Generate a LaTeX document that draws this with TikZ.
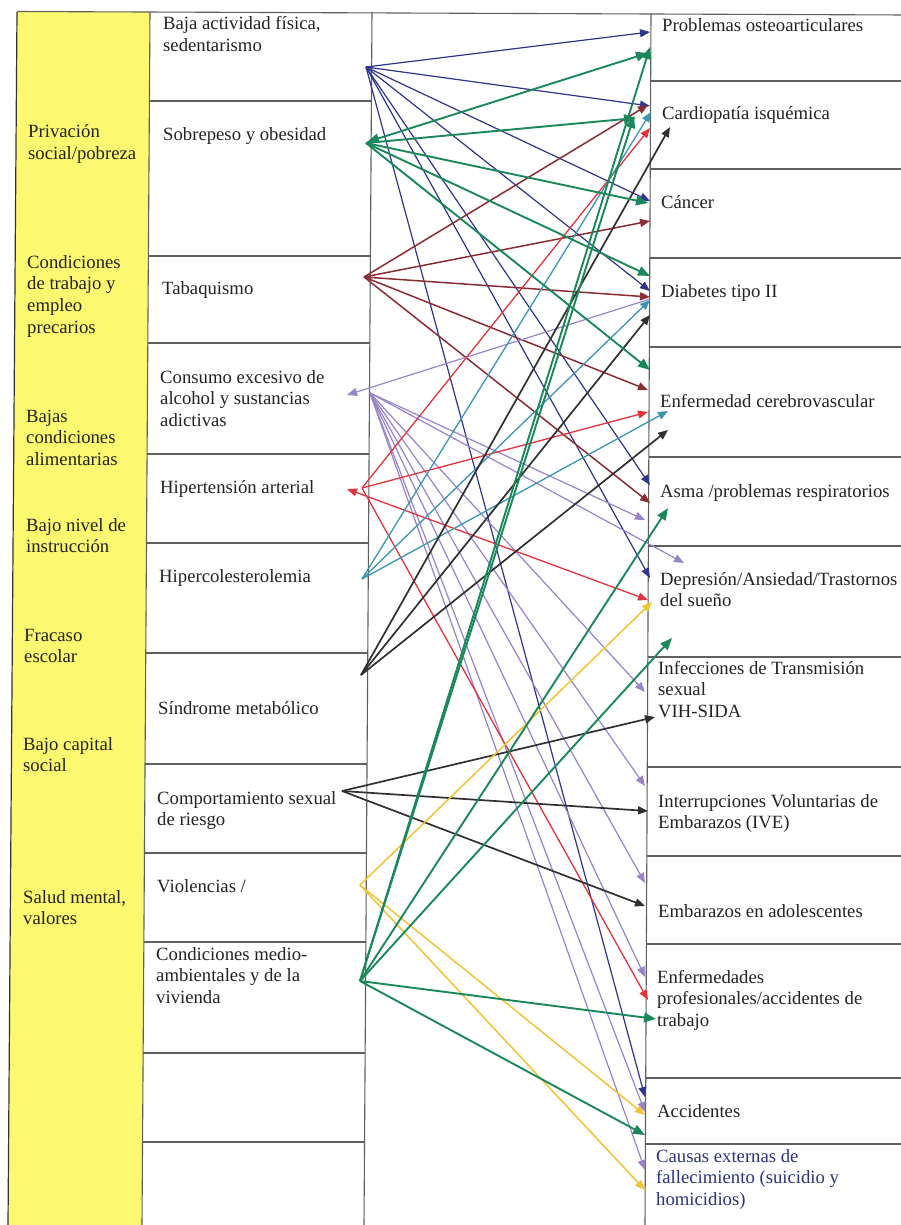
\documentclass[tikz,border=0pt]{standalone}
\usepackage{fontspec}
\setmainfont{Liberation Serif}
\usetikzlibrary{arrows.meta}
\definecolor{ybg}{RGB}{252,248,112}
\definecolor{gridc}{RGB}{95,95,95}
\definecolor{cblue}{RGB}{48,54,140}
\definecolor{cgreen}{RGB}{26,136,90}
\definecolor{cmaroon}{RGB}{138,44,52}
\definecolor{clav}{RGB}{152,132,200}
\definecolor{cred}{RGB}{226,52,62}
\definecolor{cteal}{RGB}{60,150,175}
\definecolor{cblack}{RGB}{48,48,48}
\definecolor{cyel}{RGB}{240,196,52}
\definecolor{ctxt}{RGB}{35,35,35}
\definecolor{cnavy}{RGB}{44,50,125}
\tikzset{
  lbl/.style={anchor=base west, inner sep=0pt, align=left,
    font=\fontsize{18.7}{21.7}\selectfont, text=ctxt},
  gridline/.style={draw=gridc, line width=1.1pt},
  thin arrow/.style={-{Triangle[length=10pt,width=8pt]}},
  big arrow/.style={-{Triangle[length=12pt,width=9.5pt]}},
  ablue/.style={thin arrow, draw=cblue, fill=cblue, line width=1.2pt},
  agreen/.style={big arrow, draw=cgreen, fill=cgreen, line width=1.9pt},
  amaroon/.style={thin arrow, draw=cmaroon, fill=cmaroon, line width=1.5pt},
  alav/.style={thin arrow, draw=clav, fill=clav, line width=1.2pt},
  ared/.style={thin arrow, draw=cred, fill=cred, line width=1.3pt},
  ateal/.style={thin arrow, draw=cteal, fill=cteal, line width=1.3pt},
  ablack/.style={thin arrow, draw=cblack, fill=cblack, line width=1.7pt},
  ayel/.style={thin arrow, draw=cyel, fill=cyel, line width=1.5pt},
}
\begin{document}
\begin{tikzpicture}[x=1pt,y=-1pt]
\useasboundingbox (0,0) rectangle (901,1225);
\clip (0,0) rectangle (901,1225);
\fill[white] (0,0) rectangle (901,1225);
% yellow column
\fill[ybg] (17,12) -- (150,12) -- (142,1225) -- (8,1225) -- cycle;
\draw[draw=black!80, line width=1.2pt] (17,12) -- (8,1225);
% grid
\draw[gridline] (17,11.5) -- (905,15);
\draw[gridline] (150,12) -- (142,1225);
\draw[gridline] (372,12) -- (364,1225);
\draw[gridline] (651,14) -- (645,1225);
\foreach \y/\a/\b in {101/149.4/371.4, 256/148.4/370.4, 343/147.8/369.8,
  454/147.1/369.1, 543/146.5/368.5, 653/145.8/367.8, 764/145.0/367.0,
  853/144.4/366.4, 942/143.9/365.9, 1053/143.1/365.1, 1142/142.5/364.5}
  \draw[gridline] (\a,\y) -- (\b,\y);
\foreach \y/\a in {81/650.7, 169/650.2, 258/649.8, 347/649.3, 457/648.8,
  546/648.3, 657/647.8, 767/647.2, 856/646.8, 944/646.4, 1078/645.7, 1144/645.4}
  \draw[gridline] (\a,\y) -- (905,\y);

% left column texts (y = baseline of last line)
\node[lbl] (l1) at (28,159.7) {Privación\\social/pobreza};
\node[lbl] (l2) at (27,333.1) {Condiciones\\de trabajo y\\empleo\\precarios};
\node[lbl] (l3) at (26,465.4) {Bajas\\condiciones\\alimentarias};
\node[lbl] (l4) at (26,552.7) {Bajo nivel de\\instrucción};
\node[lbl] (l5) at (24,662.7) {Fracaso\\escolar};
\node[lbl] (l6) at (23,771.7) {Bajo capital\\social};
\node[lbl] (l7) at (23,924.7) {Salud mental,\\valores};

% middle column texts
\node[lbl] (m1) at (163,51.7) {Baja actividad física,\\sedentarismo};
\node[lbl] (m2) at (163,141) {Sobrepeso y obesidad};
\node[lbl] (m3) at (162,294) {Tabaquismo};
\node[lbl] (m4) at (160,426.4) {Consumo excesivo de\\alcohol y sustancias\\adictivas};
\node[lbl] (m5) at (160,493) {Hipertensión arterial};
\node[lbl] (m6) at (159,582) {Hipercolesterolemia};
\node[lbl] (m7) at (158,714) {Síndrome metabólico};
\node[lbl] (m8) at (157,825.7) {Comportamiento sexual\\de riesgo};
\node[lbl] (m9) at (157,892) {Violencias /};
\node[lbl] (m10) at (156,1003.4) {Condiciones medio-\\ambientales y de la\\vivienda};

% right column texts
\node[lbl] (r1) at (662,32) {Problemas osteoarticulares};
\node[lbl] (r2) at (662,120) {Cardiopatía isquémica};
\node[lbl] (r3) at (661,208) {Cáncer};
\node[lbl] (r4) at (661,297) {Diabetes tipo II};
\node[lbl] (r5) at (660,407) {Enfermedad cerebrovascular};
\node[lbl] (r6) at (660,497) {Asma /problemas respiratorios};
\node[lbl] (r7) at (660,606.7) {Depresión/Ansiedad/Trastornos\\del sueño};
\node[lbl] (r8) at (658,717.4) {Infecciones de Transmisión\\sexual\\VIH-SIDA};
\node[lbl] (r9) at (658,828.7) {Interrupciones Voluntarias de\\Embarazos (IVE)};
\node[lbl] (r10) at (658,917) {Embarazos en adolescentes};
\node[lbl] (r11) at (657,1026.4) {Enfermedades\\profesionales/accidentes de\\trabajo};
\node[lbl] (r12) at (657,1117) {Accidentes};
\node[lbl, text=cnavy] (r13) at (656,1205.4) {Causas externas de\\fallecimiento (suicidio y\\homicidios)};

% source points
\coordinate (sBaja) at (366,67);
\coordinate (sSob) at (366,143);
\coordinate (sTab) at (364,277);
\coordinate (sCons) at (370,393);
\coordinate (sConsTip) at (347,395);
\coordinate (sHip) at (362,488);
\coordinate (sHipTip) at (347,489);
\coordinate (sCol) at (362,579);
\coordinate (sSin) at (361,675);
\coordinate (sCom) at (342,791);
\coordinate (sVio) at (360,885);
\coordinate (sMed) at (360,981);
\coordinate (sSobTip) at (367,142);

% target points
\coordinate (pA) at (650,32);
\coordinate (pB) at (648,53);
\coordinate (pC) at (650,47);
\coordinate (cA) at (650,106);
\coordinate (cB) at (636,118);
\coordinate (cC) at (648,105);
\coordinate (cD) at (650,128);
\coordinate (cE) at (651,112);
\coordinate (cF) at (670,127);
\coordinate (cG) at (634,116);
\coordinate (kA) at (650,201);
\coordinate (kB) at (648,203);
\coordinate (kC) at (650,221);
\coordinate (dA) at (650,291);
\coordinate (dB) at (650,276);
\coordinate (dC) at (650,297);
\coordinate (dD) at (650,299);
\coordinate (dE) at (650,300);
\coordinate (dF) at (650,315);
\coordinate (eA) at (650,370);
\coordinate (eB) at (648,390);
\coordinate (eC) at (648,412);
\coordinate (eD) at (668,411);
\coordinate (eE) at (668,430);
\coordinate (aA) at (650,485);
\coordinate (aB) at (650,503);
\coordinate (aC) at (645,520);
\coordinate (aD) at (668,508);
\coordinate (xA) at (650,578);
\coordinate (xB) at (684,563);
\coordinate (xC) at (648,600);
\coordinate (xD) at (652,602);
\coordinate (iA) at (645,692);
\coordinate (iB) at (655,717);
\coordinate (iC) at (672,638);
\coordinate (vA) at (645,786);
\coordinate (vB) at (648,811);
\coordinate (bA) at (645,883);
\coordinate (bB) at (645,906);
\coordinate (fA) at (645,977);
\coordinate (fB) at (648,1000);
\coordinate (fC) at (656,1019);
\coordinate (gA) at (645,1097);
\coordinate (gB) at (645,1112);
\coordinate (gC) at (645,1115);
\coordinate (gD) at (645,1135);
\coordinate (zA) at (645,1170);
\coordinate (zB) at (645,1190);

% blue: Baja actividad
\foreach \t in {pA,cA,kA,dA,aA,xA,gA} \draw[ablue] (sBaja) -- (\t);
% maroon: Tabaquismo
\foreach \t in {cC,kC,dC,eB,aB} \draw[amaroon] (sTab) -- (\t);
% lavender: Consumo
\draw[alav] (dD) -- (sConsTip);
\foreach \t in {aC,xB,iA,vA,bA,fA,gB,zA} \draw[alav] (sCons) -- (\t);
% red: Hipertension
\foreach \t in {cD,eC,fB} \draw[ared] (sHip) -- (\t);
\draw[ared, {Triangle[length=10pt,width=8pt]}-{Triangle[length=10pt,width=8pt]}] (sHipTip) -- (xC);
% teal: Hipercolesterolemia
\foreach \t in {cE,dE,eD} \draw[ateal] (sCol) -- (\t);
% black: Sindrome metabolico
\foreach \t in {cF,dF,eE} \draw[ablack] (sSin) -- (\t);
% black: Comportamiento sexual
\foreach \t in {iB,vB,bB} \draw[ablack] (sCom) -- (\t);
% yellow: Violencias
\foreach \t in {xD,gC,zB} \draw[ayel] (sVio) -- (\t);
% green: Sobrepeso
\draw[agreen, {Triangle[length=12pt,width=9.5pt]}-{Triangle[length=12pt,width=9.5pt]}] (sSobTip) -- (pB);
\foreach \t in {cB,kB,dB,eA} \draw[agreen] (sSob) -- (\t);
% green: Condiciones medioambientales
\foreach \t in {pC,cG,aD,iC,fC,gD} \draw[agreen] (sMed) -- (\t);
\end{tikzpicture}
\end{document}
